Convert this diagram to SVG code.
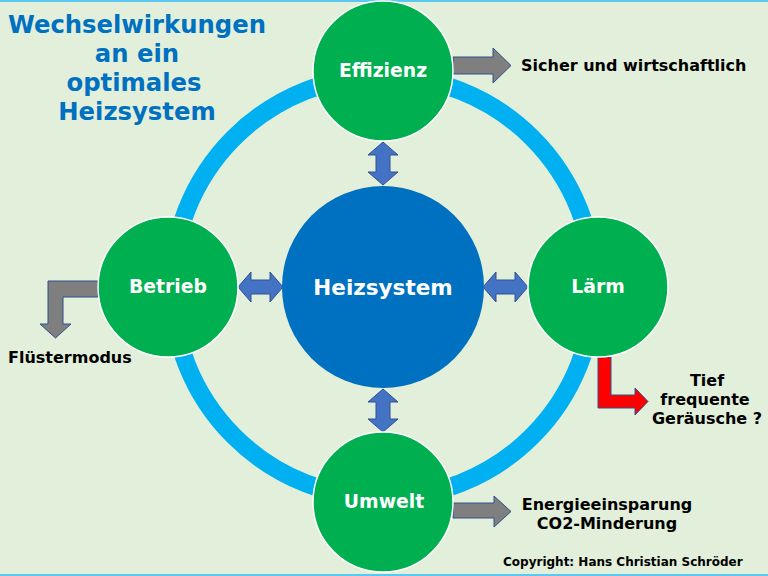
<svg xmlns="http://www.w3.org/2000/svg" width="768" height="576" viewBox="0 0 768 576">
<style>
.bg{fill:#E2EFDA}
.ring{fill:none;stroke:#00B0F0;stroke-width:18}
.node{fill:#00B050;stroke:#FFFFFF;stroke-width:1.5}
.hub{fill:#0070C0}
.dbl{fill:#4472C4;stroke:#2F528F;stroke-width:1}
.gray{fill:#7F7F7F;stroke:#2F528F;stroke-width:1}
.red{fill:#FF0000;stroke:#2F528F;stroke-width:1}
text{font-family:"DejaVu Sans",Verdana,"Liberation Sans",sans-serif;font-weight:bold}
.nl{fill:#FFFFFF;font-size:18.8px;text-anchor:middle}
.title{fill:#0070C0;font-size:24.3px;text-anchor:middle}
.lbl{fill:#000000;font-size:16px}
.lblc{fill:#000000;font-size:16px;text-anchor:middle}
.copy{fill:#000000;font-size:12px}
</style>
<rect class="bg" x="0" y="0" width="768" height="576"/>
<line x1="0" y1="1" x2="768" y2="1" stroke="#5BC8F0" stroke-width="2"/>
<line x1="0" y1="575" x2="768" y2="575" stroke="#5BC8F0" stroke-width="2"/>

<g id="title">
<text class="title" x="137" y="33">Wechselwirkungen</text>
<text class="title" x="137" y="62">an ein</text>
<text class="title" x="134" y="91">optimales</text>
<text class="title" x="137" y="120">Heizsystem</text>
</g>

<g id="connectors">
<circle class="ring" cx="383" cy="287" r="211"/>
<path class="dbl" d="M383,142 L398,155 L390,155 L390,172 L398,172 L383,185 L368,172 L376,172 L376,155 L368,155 Z"/>
<path class="dbl" d="M383,389 L398,402 L390,402 L390,419 L398,419 L383,432 L368,419 L376,419 L376,402 L368,402 Z"/>
<path class="dbl" d="M238,287 L251,272 L251,280 L270,280 L270,272 L283,287 L270,302 L270,294 L251,294 L251,302 Z"/>
<path class="dbl" d="M483,287 L496,272 L496,280 L515,280 L515,272 L528,287 L515,302 L515,294 L496,294 L496,302 Z"/>
<path class="gray" d="M453,57 L493,57 L493,48 L511,65.5 L493,83 L493,74 L453,74 Z"/>
<path class="gray" d="M453,503 L494,503 L494,496 L511,511.5 L494,527 L494,518 L453,518 Z"/>
<path class="gray" d="M98,281 L48,281 L48,324 L40,324 L55.5,338 L71,324 L63,324 L63,297 L98,297 Z"/>
<path class="red" d="M598,357 L611,357 L611,395 L635,395 L635,388 L648,401.5 L635,415 L635,408 L598,408 Z"/>
</g>

<g id="heizsystem">
<circle class="hub" cx="383" cy="287" r="101"/>
<text x="383" y="295" fill="#FFFFFF" font-size="21.5" text-anchor="middle">Heizsystem</text>
</g>
<g id="effizienz">
<circle class="node" cx="383" cy="71" r="70"/>
<text class="nl" x="383" y="77">Effizienz</text>
</g>
<g id="betrieb">
<circle class="node" cx="168" cy="287" r="70"/>
<text class="nl" x="168" y="293">Betrieb</text>
</g>
<g id="laerm">
<circle class="node" cx="598" cy="287" r="70"/>
<text class="nl" x="598" y="293">Lärm</text>
</g>
<g id="umwelt">
<circle class="node" cx="383" cy="502" r="70"/>
<text class="nl" x="384" y="508">Umwelt</text>
</g>

<g id="labels">
<text class="lbl" x="521" y="71">Sicher und wirtschaftlich</text>
<text class="lbl" x="8" y="363">Flüstermodus</text>
<text class="lblc" x="707" y="386">Tief</text>
<text class="lblc" x="705" y="405">frequente</text>
<text class="lblc" x="707" y="424">Geräusche ?</text>
<text class="lblc" x="607" y="510">Energieeinsparung</text>
<text class="lblc" x="607" y="529">CO2-Minderung</text>
<text class="copy" x="503" y="566">Copyright: Hans Christian Schröder</text>
</g>
</svg>
